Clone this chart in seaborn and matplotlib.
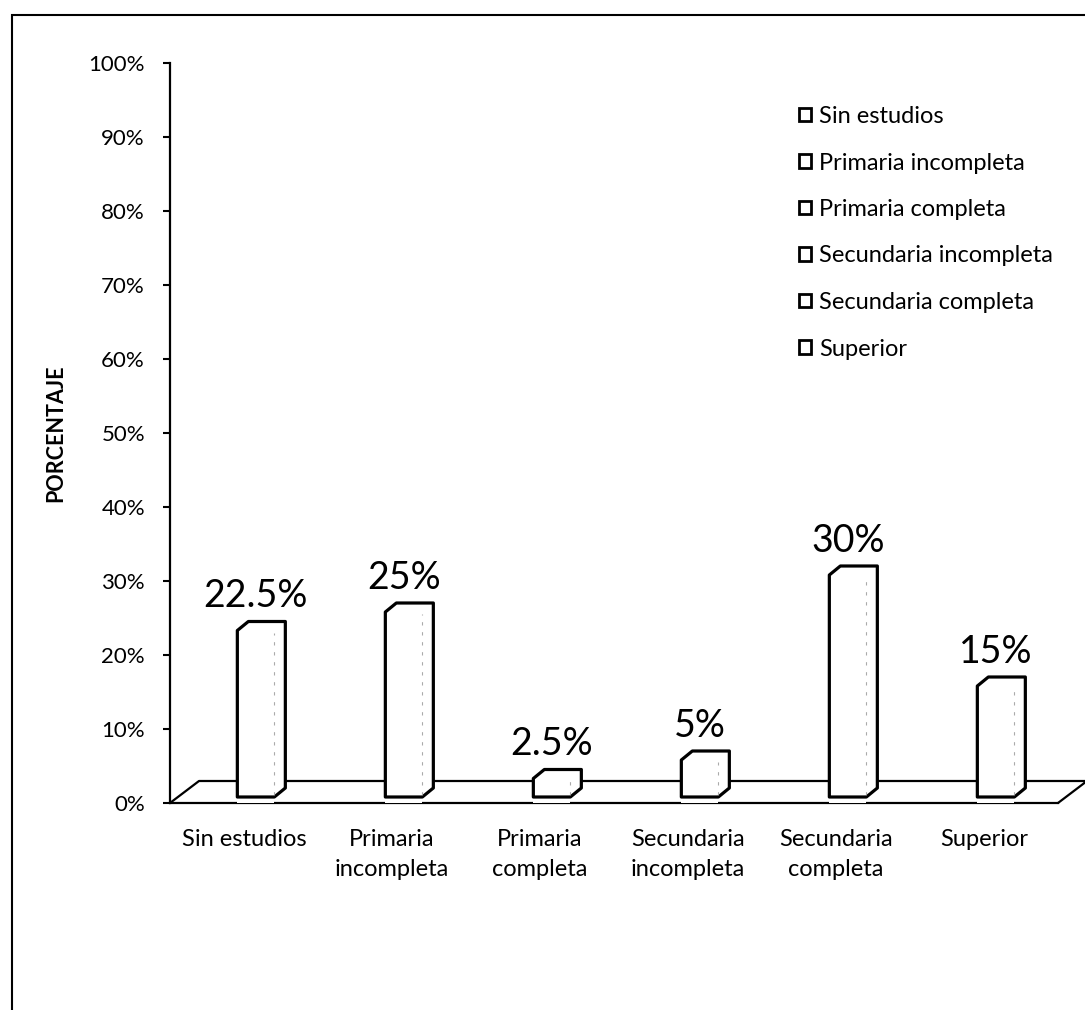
import matplotlib
matplotlib.use("Agg")
import matplotlib.pyplot as plt
from matplotlib.patches import Polygon, Patch, Rectangle
from matplotlib.transforms import ScaledTranslation
import seaborn as sns

# data
categories = ["Sin estudios", "Primaria incompleta", "Primaria completa",
              "Secundaria incompleta", "Secundaria completa", "Superior"]
tick_labels = ["Sin estudios", "Primaria\nincompleta", "Primaria\ncompleta",
               "Secundaria\nincompleta", "Secundaria\ncompleta", "Superior"]
values = [22.5, 25, 2.5, 5, 30, 15]
value_labels = ["22.5%", "25%", "2.5%", "5%", "30%", "15%"]
y_ticks = [0, 10, 20, 30, 40, 50, 60, 70, 80, 90, 100]
y_tick_labels = [f"{t}%" for t in y_ticks]

sns.set_theme(style="white")
plt.rcParams["font.family"] = ["Lato", "DejaVu Sans"]
plt.rcParams["text.color"] = "black"

W, H = 1085, 1010
fig = plt.figure(figsize=(W / 100, H / 100), dpi=100)
fig.patch.set_facecolor("white")
ax = fig.add_axes([170 / W, 207 / H, 888 / W, 740 / H])

sns.barplot(x=categories, y=values, hue=categories, palette=["white"] * 6,
            width=0.25, legend=False, linewidth=0, ax=ax, zorder=3)

ax.set_xlim(-0.58, 5.42)
ax.set_ylim(0, 100)

# pixel -> data units (axes is fixed in size)
ux = 6.0 / 888
uy = 100.0 / 740

# pseudo-3D outline for each bar
base = 6 * uy
dx, dy = 11 * ux, 9 * uy
for bar in list(ax.patches):
    x0 = bar.get_x()
    x1 = x0 + bar.get_width()
    top = bar.get_height() + base
    verts = [(x0, base), (x0, top), (x0 + dx, top + dy), (x1 + dx, top + dy),
             (x1 + dx, base + dy), (x1, base)]
    ax.add_patch(Polygon(verts, closed=True, facecolor="white", edgecolor="black",
                         lw=2.3, joinstyle="round", zorder=4))
    ax.plot([x1, x1], [base + 2 * uy, top - 2 * uy], color="#aaaaaa", lw=0.8,
            ls=(0, (3, 6)), zorder=5)

for cont, lab in zip(ax.containers, value_labels):
    ax.bar_label(cont, labels=[lab], padding=16, fontsize=27, color="black", zorder=6)

# floor
x_left, x_right = ax.get_xlim()
fd_x, fd_y = 29 * ux, 22 * uy
ax.plot([x_left, x_left + fd_x, x_right + fd_x, x_right], [0, fd_y, fd_y, 0],
        color="black", lw=1.6, clip_on=False, zorder=2)

# axes styling
for side in ["top", "right"]:
    ax.spines[side].set_visible(False)
for side in ["left", "bottom"]:
    ax.spines[side].set_color("black")
    ax.spines[side].set_linewidth(1.6)

ax.set_yticks(y_ticks, y_tick_labels)
ax.set_xticks(range(len(tick_labels)), tick_labels)
ax.tick_params(axis="y", left=True, length=5, width=1.5, pad=13, labelsize=16,
               colors="black")
ax.tick_params(axis="x", bottom=False, pad=13, labelsize=17, colors="black")
shift = ScaledTranslation(-12 / 100, 0, fig.dpi_scale_trans)
for lab in ax.get_xticklabels():
    lab.set_linespacing(1.5)
    lab.set_transform(lab.get_transform() + shift)

ax.set_xlabel("")
ax.set_ylabel("PORCENTAJE", fontweight="bold", fontsize=15.5, color="black")
ax.yaxis.set_label_coords((66 - 170) / 888, 0.5)

# legend
handles = [Patch(facecolor="white", edgecolor="black", linewidth=2) for _ in categories]
fig.legend(handles, categories, loc="upper left", bbox_to_anchor=(799 / W, 1 - 106 / H),
           frameon=False, fontsize=17, handlelength=0.5, handleheight=0.5,
           handletextpad=0.35, labelspacing=1.08, borderpad=0, borderaxespad=0)

# outer frame (left and top edges visible)
fig.add_artist(Rectangle((12 / W, -0.1), 1.2, (1 - 15 / H) + 0.1,
                         transform=fig.transFigure, fill=False,
                         edgecolor="black", lw=1.5))

fig.savefig("out.png", dpi=100)
